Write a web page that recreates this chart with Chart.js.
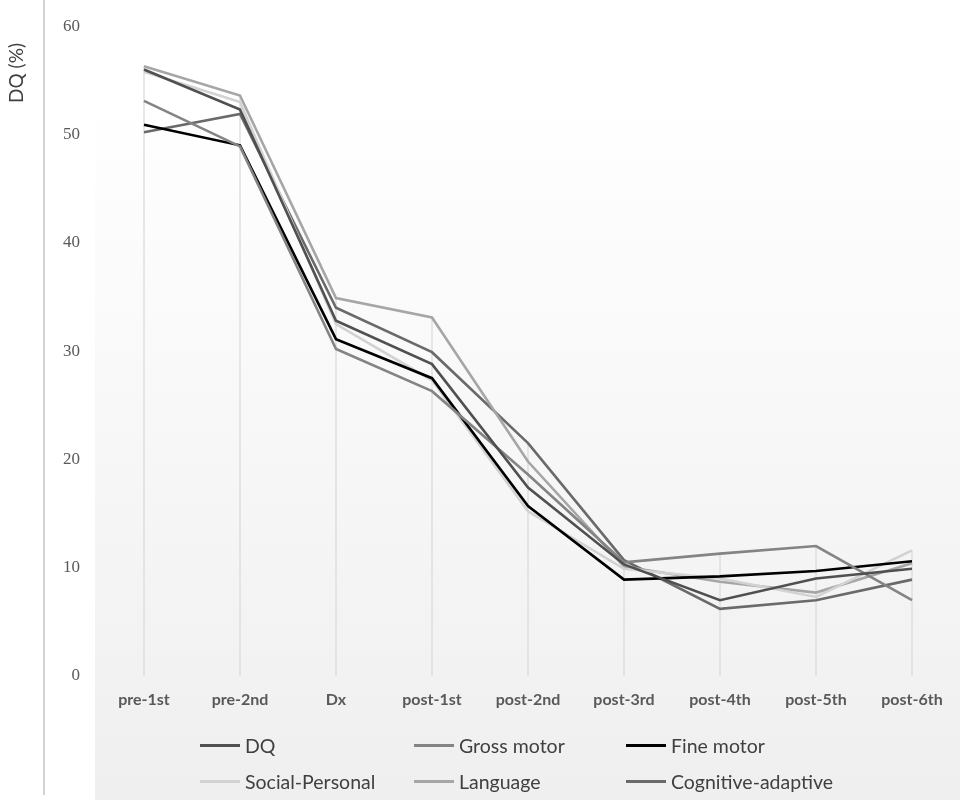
<!DOCTYPE html>
<html>
<head>
<meta charset="utf-8">
<script src="https://cdn.jsdelivr.net/npm/chart.js@4.4.1/dist/chart.umd.min.js"></script>
<style>
  html, body { margin: 0; padding: 0; background: #fff; }
  #wrap { position: relative; width: 965px; height: 800px; }
  #legend { position: absolute; left: 0; top: 0; width: 965px; height: 800px; pointer-events: none; }
  .item { position: absolute; display: flex; align-items: center; font-family: Lato, sans-serif; font-size: 19.5px; color: #404040; white-space: nowrap; }
  .item span.sw { display: inline-block; width: 40px; height: 3px; margin-right: 5px; }
</style>
</head>
<body>
<div id="wrap">
  <canvas id="dqChart" width="965" height="800"></canvas>
  <div id="legend"></div>
</div>
<script>
// categories and series
const categories = ['pre-1st', 'pre-2nd', 'Dx', 'post-1st', 'post-2nd', 'post-3rd', 'post-4th', 'post-5th', 'post-6th'];
const dqValues        = [56.0, 52.3, 32.8, 28.8, 17.4, 10.3, 7.0, 9.0, 9.9];
const grossMotor      = [53.1, 48.9, 30.2, 26.3, 18.6, 10.5, 11.3, 12.0, 7.0];
const fineMotor       = [50.9, 49.0, 31.1, 27.5, 15.7, 8.9, 9.2, 9.7, 10.6];
const socialPersonal  = [55.8, 53.0, 32.5, 27.3, 15.2, 9.9, 9.0, 7.3, 11.6];
const language        = [56.3, 53.6, 34.9, 33.1, 19.8, 10.1, 8.7, 7.7, 10.4];
const cognitive       = [50.2, 51.9, 34.0, 29.9, 21.5, 10.7, 6.2, 7.0, 8.9];
const seriesNames = ['DQ', 'Gross motor', 'Fine motor', 'Social-Personal', 'Language', 'Cognitive-adaptive'];
const yMin = 0, yMax = 60, yStep = 10;

const seriesData = [dqValues, grossMotor, fineMotor, socialPersonal, language, cognitive];
const seriesColors = ['#505050', '#848484', '#000000', '#d2d2d2', '#a6a6a6', '#6a6a6a'];

// background gradient, frame line, drop lines and axis title
const decorPlugin = {
    id: 'decor',
    beforeDraw(chart) {
        const ctx = chart.ctx;
        ctx.save();
        ctx.fillStyle = '#ffffff';
        ctx.fillRect(0, 0, chart.width, chart.height);
        const grad = ctx.createLinearGradient(0, 98, 0, 800);
        grad.addColorStop(0, '#ffffff');
        grad.addColorStop(1, '#efefef');
        ctx.fillStyle = grad;
        ctx.fillRect(95, 98, 865, 702);
        ctx.strokeStyle = '#c4c4c4';
        ctx.lineWidth = 1.5;
        ctx.beginPath();
        ctx.moveTo(44, 0);
        ctx.lineTo(44, 795);
        ctx.stroke();

        ctx.fillStyle = '#404040';
        ctx.font = '19px Lato, sans-serif';
        ctx.translate(17, 73);
        ctx.rotate(-Math.PI / 2);
        ctx.textAlign = 'center';
        ctx.textBaseline = 'middle';
        ctx.fillText('DQ (%)', 0, 0);
        ctx.restore();
    },
    beforeDatasetsDraw(chart) {
        const ctx = chart.ctx;
        const x = chart.scales.x, y = chart.scales.y;
        ctx.save();
        ctx.strokeStyle = '#d9d9d9';
        ctx.lineWidth = 1.2;
        categories.forEach((c, i) => {
            const top = Math.max(...seriesData.map(s => s[i]));
            const px = x.getPixelForValue(i);
            ctx.beginPath();
            ctx.moveTo(px, y.getPixelForValue(top));
            ctx.lineTo(px, y.getPixelForValue(0));
            ctx.stroke();
        });
        ctx.restore();
    }
};

const ctx = document.getElementById('dqChart').getContext('2d');
const dqChart = new Chart(ctx, {
    type: 'line',
    data: {
        labels: categories,
        datasets: seriesNames.map((name, i) => ({
            label: name,
            data: seriesData[i],
            borderColor: seriesColors[i],
            backgroundColor: seriesColors[i],
            borderWidth: 2.6,
            pointRadius: 0,
            tension: 0,
            fill: false
        }))
    },
    options: {
        responsive: false,
        animation: false,
        layout: { padding: { top: 15, right: 5, left: 0, bottom: 0 } },
        plugins: {
            legend: { display: false },
            tooltip: { enabled: false }
        },
        scales: {
            x: {
                offset: true,
                grid: { display: false, drawTicks: false },
                border: { display: false },
                ticks: {
                    color: '#595959',
                    font: { family: 'Lato', size: 16, weight: 'bold' },
                    padding: 14,
                    maxRotation: 0
                },
                afterFit: function(scale) { scale.height = 124; }
            },
            y: {
                min: yMin,
                max: yMax,
                grid: { display: false, drawTicks: false },
                border: { display: false },
                ticks: {
                    stepSize: yStep,
                    color: '#595959',
                    font: { family: 'Liberation Serif', size: 17 },
                    padding: 16
                },
                afterFit: function(scale) { scale.width = 96; }
            }
        }
    },
    plugins: [decorPlugin]
});

// legend in three columns, as in the figure
const legendCols = [200, 414, 626];
const legendRows = [745, 781];
const legendBox = document.getElementById('legend');
seriesNames.forEach((name, i) => {
    const item = document.createElement('div');
    item.className = 'item';
    item.style.left = legendCols[i % 3] + 'px';
    item.style.top = (legendRows[Math.floor(i / 3)] - 12) + 'px';
    item.style.height = '24px';
    item.innerHTML = '<span class="sw" style="background:' + seriesColors[i] + '"></span>' + name;
    legendBox.appendChild(item);
});
</script>
</body>
</html>
